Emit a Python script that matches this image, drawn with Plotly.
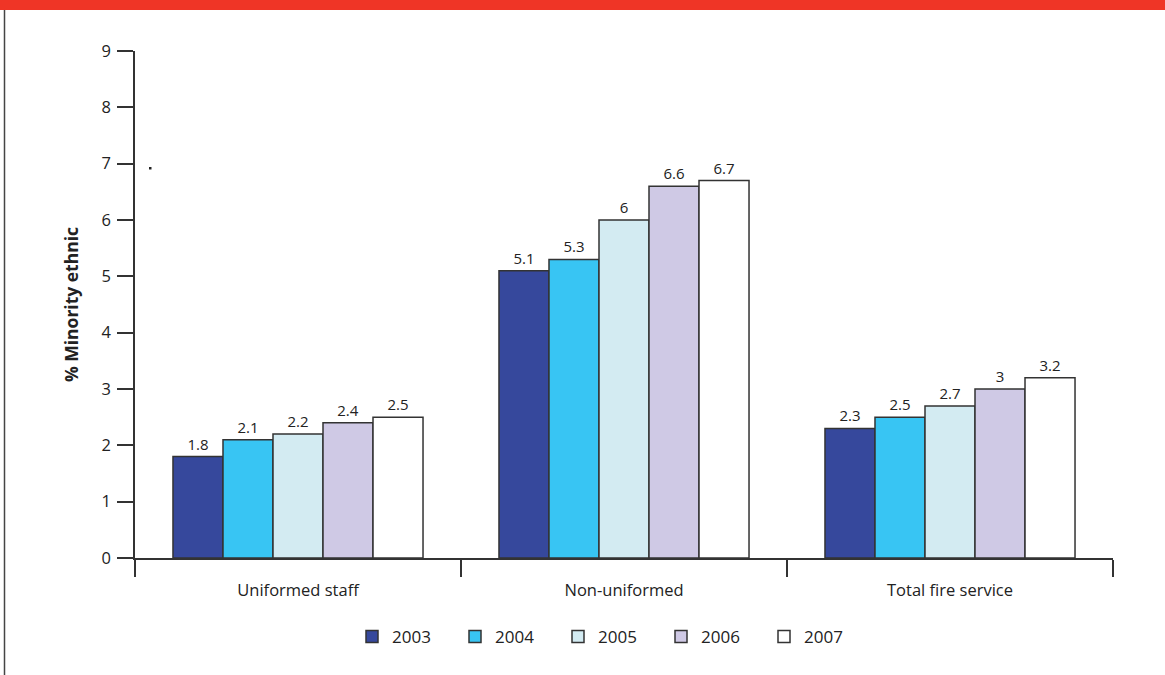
import plotly.graph_objects as go

categories = ["Uniformed staff", "Non-uniformed", "Total fire service"]
years = ["2003", "2004", "2005", "2006", "2007"]
values = {
    "2003": [1.8, 5.1, 2.3],
    "2004": [2.1, 5.3, 2.5],
    "2005": [2.2, 6.0, 2.7],
    "2006": [2.4, 6.6, 3.0],
    "2007": [2.5, 6.7, 3.2],
}
colors = {
    "2003": "#36489c",
    "2004": "#38c5f3",
    "2005": "#d3ebf2",
    "2006": "#cfc9e5",
    "2007": "#ffffff",
}
y_ticks = list(range(0, 10))

FONT = "Open Sans"
TXT = "#222222"
fig = go.Figure()
for yr in years:
    fig.add_trace(go.Bar(
        name=yr,
        x=categories,
        y=values[yr],
        marker=dict(color=colors[yr], line=dict(color="#333333", width=1.5)),
        text=[("%g" % v) for v in values[yr]],
        textposition="outside",
        textfont=dict(size=15, color=TXT, family=FONT),
        cliponaxis=False,
    ))

W, H = 1165, 675
L, R, T, B = 135, 52, 51, 117
pw, ph = W - L - R, H - T - B

def px(x):
    return (x - L) / pw

def py(y):
    return (H - B - y) / ph

shapes = [
    dict(type="rect", xref="paper", yref="paper", x0=px(0), x1=px(W), y0=py(10), y1=py(0),
         fillcolor="#ef3526", line=dict(width=0), layer="above"),
    dict(type="line", xref="paper", yref="paper", x0=px(4.5), x1=px(4.5), y0=py(10), y1=py(H),
         line=dict(color="#444444", width=1.5)),
    dict(type="rect", xref="paper", yref="paper", x0=px(149), x1=px(151.5), y0=py(169.5), y1=py(167),
         fillcolor="#222222", line=dict(width=0)),
]

fig.update_layout(
    width=W, height=H,
    margin=dict(l=L, r=R, t=T, b=B),
    paper_bgcolor="white", plot_bgcolor="white",
    font=dict(family=FONT, color=TXT, size=16),
    barmode="group",
    bargap=0.233,
    bargroupgap=0,
    showlegend=True,
    legend=dict(orientation="h", x=px(352), xanchor="left", y=py(637), yanchor="middle",
                entrywidth=58, entrywidthmode="pixels", font=dict(size=17, color=TXT, family=FONT),
                itemwidth=30, traceorder="normal"),
    shapes=shapes,
    xaxis=dict(showline=True, linecolor="#333333", linewidth=1.5, ticks="outside",
               tickson="boundaries", ticklen=17, tickcolor="#333333", tickwidth=1.5,
               ticklabelstandoff=16,
               tickfont=dict(size=16.5, color=TXT, family=FONT), showgrid=False),
    yaxis=dict(range=[0, 9], tickvals=y_ticks, showline=True, linecolor="#333333", linewidth=1.5,
               ticks="outside", ticklen=16, tickcolor="#333333", tickwidth=1.5, showgrid=False,
               ticklabelstandoff=3,
               zeroline=False, tickfont=dict(size=16.5, color=TXT, family=FONT),
               title=dict(text="<b>% Minority ethnic</b>", font=dict(size=17.5, color=TXT, family=FONT),
                          standoff=18)),
)

fig.write_html("out.html", config={"displayModeBar": False},
               post_script="document.body.style.margin='0';")
